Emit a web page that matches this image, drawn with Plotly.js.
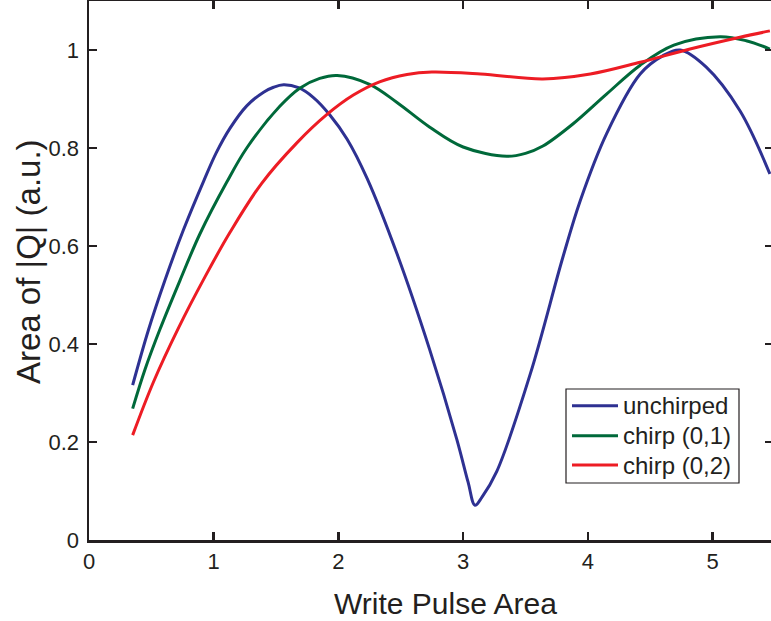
<!DOCTYPE html>
<html>
<head>
<meta charset="utf-8">
<script src="https://cdn.plot.ly/plotly-3.0.1.min.js"></script>
<style>
html, body { margin: 0; padding: 0; overflow: hidden; background: #fff; }
#chart { width: 780px; height: 621px; }
</style>
</head>
<body>
<div id="chart"></div>
<script>
// Data
const seriesNames = ["unchirped", "chirp (0,1)", "chirp (0,2)"];

const unchirpedX = [0.35, 0.476, 0.609, 0.756, 0.922, 1.02, 1.13, 1.265, 1.40, 1.48, 1.56, 1.68, 1.80, 1.93, 2.07, 2.23, 2.47, 2.73, 2.95, 3.04, 3.095, 3.15, 3.27, 3.54, 3.80, 3.94, 4.15, 4.42, 4.60, 4.74, 4.95, 5.22, 5.46];
const unchirpedY = [0.316, 0.428, 0.530, 0.632, 0.734, 0.790, 0.840, 0.886, 0.914, 0.924, 0.929, 0.923, 0.903, 0.868, 0.818, 0.738, 0.584, 0.390, 0.205, 0.118, 0.071, 0.087, 0.140, 0.340, 0.577, 0.693, 0.829, 0.951, 0.988, 1.000, 0.965, 0.876, 0.747];

const chirp01X = [0.35, 0.449, 0.569, 0.73, 0.89, 1.104, 1.265, 1.53, 1.69, 1.85, 1.99, 2.25, 2.47, 2.73, 3.00, 3.35, 3.50, 3.64, 3.88, 4.15, 4.42, 4.69, 5.06, 5.27, 5.46];
const chirp01Y = [0.268, 0.348, 0.430, 0.530, 0.625, 0.730, 0.800, 0.885, 0.922, 0.942, 0.948, 0.930, 0.893, 0.843, 0.802, 0.783, 0.789, 0.804, 0.849, 0.910, 0.969, 1.010, 1.027, 1.019, 1.002];

const chirp02X = [0.35, 0.516, 0.716, 0.93, 1.131, 1.385, 1.665, 1.906, 2.12, 2.33, 2.55, 2.75, 3.14, 3.64, 4.02, 4.42, 4.82, 5.22, 5.46];
const chirp02Y = [0.214, 0.322, 0.432, 0.537, 0.628, 0.728, 0.810, 0.868, 0.908, 0.935, 0.950, 0.955, 0.951, 0.941, 0.951, 0.975, 1.002, 1.026, 1.039];

const xTicks = [0, 1, 2, 3, 4, 5];
const yTicks = [0, 0.2, 0.4, 0.6, 0.8, 1];
const yTickLabels = ["0", "0.2", "0.4", "0.6", "0.8", "1"];

const colors = ["#2e3192", "#00693a", "#ed1c24"];
const axisColor = "#231f20";
const fontFamily = "'Liberation Sans', Arial, Helvetica, sans-serif";

const seriesX = [unchirpedX, chirp01X, chirp02X];
const seriesY = [unchirpedY, chirp01Y, chirp02Y];

const traces = seriesNames.map((name, i) => ({
  type: "scatter",
  mode: "lines",
  name: name,
  x: seriesX[i],
  y: seriesY[i],
  showlegend: false,
  line: {color: colors[i], width: 3, shape: "spline", smoothing: 1}
}));

// Plot-area geometry (pixels)
const M = {l: 89, r: 7, t: 1, b: 81};
const W = 780, H = 621;
const PW = W - M.l - M.r, PH = H - M.t - M.b;
const px2x = p => (p - M.l) / PW;
const px2y = p => (H - M.b - p) / PH;

// Legend drawn as a boxed key
const legendBox = {x0: 566, x1: 739, y0: 389, y1: 483};
const legendRows = [405.7, 435.7, 465];
const shapes = [{
  type: "rect", xref: "paper", yref: "paper",
  x0: px2x(legendBox.x0), x1: px2x(legendBox.x1),
  y0: px2y(legendBox.y1), y1: px2y(legendBox.y0),
  line: {color: axisColor, width: 1.2}, fillcolor: "#fff", layer: "above"
}];
const annotations = [];
seriesNames.forEach((name, i) => {
  shapes.push({
    type: "line", xref: "paper", yref: "paper",
    x0: px2x(572), x1: px2x(618),
    y0: px2y(legendRows[i]), y1: px2y(legendRows[i]),
    line: {color: colors[i], width: 3}, layer: "above"
  });
  annotations.push({
    text: name, xref: "paper", yref: "paper",
    x: px2x(621), y: px2y(legendRows[i]),
    xanchor: "left", yanchor: "middle", showarrow: false,
    font: {family: fontFamily, size: 24, color: axisColor}
  });
});

annotations.push({
  text: "Write Pulse Area",
  xref: "paper", yref: "paper",
  x: px2x(446), y: px2y(603), xanchor: "center", yanchor: "middle",
  showarrow: false,
  font: {family: fontFamily, size: 30, color: axisColor}
});
annotations.push({
  text: "Area of |Q| (a.u.)",
  xref: "paper", yref: "paper",
  x: px2x(28), y: px2y(262), xanchor: "center", yanchor: "middle",
  textangle: -90,
  showarrow: false,
  font: {family: fontFamily, size: 33, color: axisColor}
});

const axisCommon = {
  showline: true,
  linecolor: axisColor,
  linewidth: 2.5,
  mirror: "ticks",
  ticks: "inside",
  ticklen: 8,
  tickwidth: 2.5,
  tickcolor: axisColor,
  showgrid: false,
  zeroline: false,
  tickfont: {family: fontFamily, size: 22, color: axisColor}
};

const layout = {
  width: W,
  height: H,
  margin: M,
  paper_bgcolor: "#fff",
  plot_bgcolor: "#fff",
  showlegend: false,
  font: {family: fontFamily, color: axisColor},
  xaxis: Object.assign({}, axisCommon, {
    range: [0, 5.485],
    tickvals: xTicks,
    ticktext: xTicks.map(String),
    ticklabelstandoff: 0
  }),
  yaxis: Object.assign({}, axisCommon, {
    range: [0, 1.1],
    tickvals: yTicks,
    ticktext: yTickLabels,
    ticklabelstandoff: 3
  }),
  shapes: shapes,
  annotations: annotations
};

Plotly.newPlot("chart", traces, layout, {displayModeBar: false, staticPlot: true});
</script>
</body>
</html>
